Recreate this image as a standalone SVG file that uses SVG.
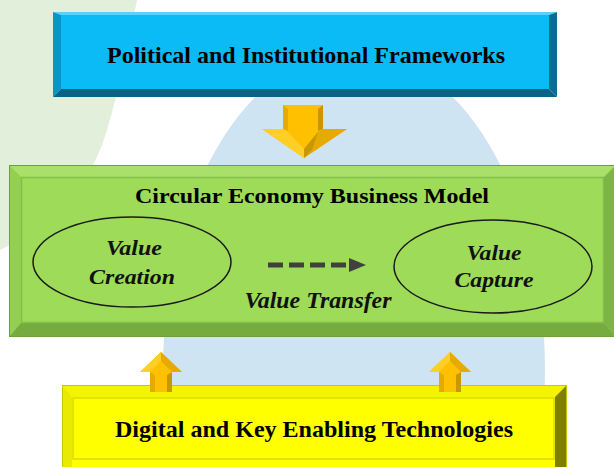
<svg xmlns="http://www.w3.org/2000/svg" width="614" height="467" viewBox="0 0 614 467">
<style>
.title{font-family:"Liberation Serif","Times New Roman",serif;font-weight:bold;fill:#000}
.ital{font-family:"Liberation Serif","Times New Roman",serif;font-weight:bold;font-style:italic;fill:#111}
.gold{fill:#ffc000}
.goldL{fill:#ffcf26}
.goldD{fill:#c99700}
.goldM{fill:#e6ab00}
</style>
<g id="background">
<rect width="614" height="467" fill="#ffffff"/>
<path d="M0,0 H137 C125,60 112,120 100,150 C80,200 40,230 0,250 Z" fill="#e2efda"/>
<ellipse cx="354" cy="370" rx="191" ry="319" fill="#cfe4f2"/>
</g>
<g id="node-political">
<rect x="61" y="15" width="488" height="74" fill="#0abbf6"/>
<polygon points="53,12 557,12 549,15 61,15" fill="#5ad0fa"/>
<polygon points="53,12 61,15 61,89 53,97" fill="#0896c8"/>
<polygon points="557,12 557,97 549,89 549,15" fill="#0a6c90"/>
<polygon points="53,97 61,89 549,89 557,97" fill="#076486"/>
<text class="title" x="306" y="63" font-size="24" text-anchor="middle" textLength="398" lengthAdjust="spacingAndGlyphs">Political and Institutional Frameworks</text>
</g>
<g id="node-cebm">
<rect x="9" y="165" width="607" height="172" fill="#9ddb58"/>
<polygon points="9,165 616,165 604,177 21,177" fill="#a9e06a"/>
<polygon points="9,165 21,177 21,323 9,337" fill="#93d052"/>
<polygon points="616,165 616,337 604,323 604,177" fill="#7db445"/>
<polygon points="9,337 21,323 604,323 616,337" fill="#76ab3f"/>
<rect x="9.5" y="165.5" width="606" height="171" fill="none" stroke="#6f9f3c" stroke-width="1"/>
<rect x="21.5" y="177.5" width="582" height="145" fill="none" stroke="#84be4b" stroke-width="1.5"/>
<text class="title" x="312" y="203" font-size="21" text-anchor="middle" textLength="354" lengthAdjust="spacingAndGlyphs">Circular Economy Business Model</text>
</g>
<g id="node-value-creation">
<ellipse cx="132" cy="262" rx="99" ry="45" fill="none" stroke="#1a1a1a" stroke-width="1.5"/>
<text class="ital" x="134" y="255" font-size="22" text-anchor="middle" textLength="56" lengthAdjust="spacingAndGlyphs">Value</text>
<text class="ital" x="132" y="284" font-size="22" text-anchor="middle" textLength="86" lengthAdjust="spacingAndGlyphs">Creation</text>
</g>
<g id="node-value-capture">
<ellipse cx="493" cy="266.5" rx="99" ry="46.5" fill="none" stroke="#1a1a1a" stroke-width="1.5"/>
<text class="ital" x="494" y="260" font-size="22" text-anchor="middle" textLength="55" lengthAdjust="spacingAndGlyphs">Value</text>
<text class="ital" x="494" y="287" font-size="22" text-anchor="middle" textLength="79" lengthAdjust="spacingAndGlyphs">Capture</text>
</g>
<g id="node-digital">
<rect x="62" y="385" width="505" height="82" fill="#ffff00"/>
<polygon points="62,385 567,385 555,397 72,397" fill="#f4f400"/>
<polygon points="62,385 72,397 72,467 62,467" fill="#eaea00"/>
<polygon points="567,385 567,467 555,467 555,397" fill="#808000"/>
<rect x="62.5" y="385.5" width="504" height="82" fill="none" stroke="#c8c800" stroke-width="1"/>
<rect x="73" y="398" width="481" height="61" fill="none" stroke="#dada00" stroke-width="1.5"/>
<text class="title" x="314" y="437" font-size="23" text-anchor="middle" textLength="398" lengthAdjust="spacingAndGlyphs">Digital and Key Enabling Technologies</text>
</g>
<g id="connectors">
<g id="arrow-down">
<polygon class="gold" points="283,105 323,105 323,129 347,129 304,158 262,129 283,129"/>
<polygon class="goldM" points="283,105 288,109 288,131 283,129"/>
<polygon class="goldD" points="323,105 318,109 318,131 323,129"/>
<polygon class="goldL" points="262,129 283,129 288,132 304,149 304,158"/>
<polygon class="goldM" points="347,129 323,129 318,132 304,149 304,158"/>
<polygon class="goldD" points="318,132 304,149 304,158 312,150"/>
</g>
<g id="arrow-up-left">
<polygon class="gold" points="161,352 182,372 172,372 172,392 150,392 150,372 140,372"/>
<polygon class="goldL" points="161,352 140,372 150,372 161,361"/>
<polygon class="goldM" points="161,352 182,372 172,372 161,361"/>
<polygon class="goldM" points="150,372 155,375 155,392 150,392"/>
<polygon class="goldD" points="172,372 167,375 167,392 172,392"/>
</g>
<g id="arrow-up-right">
<polygon class="gold" points="450,352 471,372 461,372 461,392 439,392 439,372 429,372"/>
<polygon class="goldL" points="450,352 429,372 439,372 450,361"/>
<polygon class="goldM" points="450,352 471,372 461,372 450,361"/>
<polygon class="goldM" points="439,372 444,375 444,392 439,392"/>
<polygon class="goldD" points="461,372 456,375 456,392 461,392"/>
</g>
<g id="arrow-transfer">
<line x1="268" y1="265" x2="347" y2="265" stroke="#404040" stroke-width="5" stroke-dasharray="15 6"/>
<polygon points="349,258 366,265 349,272" fill="#404040"/>
<text class="ital" x="318" y="308" font-size="23" text-anchor="middle" textLength="147" lengthAdjust="spacingAndGlyphs">Value Transfer</text>
</g>
</g>
</svg>
